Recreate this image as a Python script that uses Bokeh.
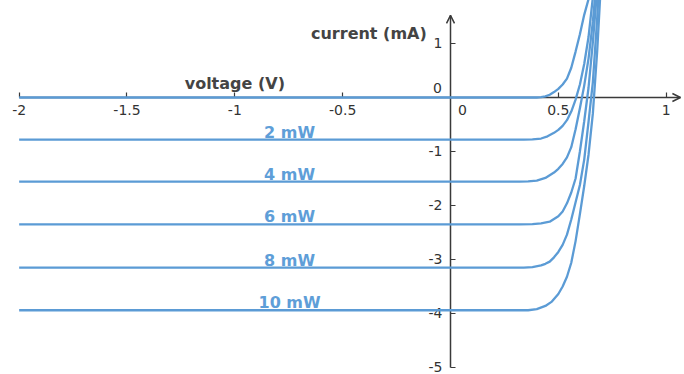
from bokeh.plotting import figure
from bokeh.models import Range1d, Arrow, OpenHead, FixedTicker, CustomJSTickFormatter
from bokeh.core.properties import value
from bokeh.embed import file_html
from bokeh.resources import INLINE

# ---- data ----
x_ticks = [-2, -1.5, -1, -0.5, 0, 0.5, 1]
y_ticks = [-5, -4, -3, -2, -1, 0, 1]
x_title = "voltage (V)"
y_title = "current (mA)"

power_labels = ["2 mW", "4 mW", "6 mW", "8 mW", "10 mW"]
dark_levels = [-0.78, -1.56, -2.35, -3.15, -3.94]   # flat reverse current of each curve

v_0mW = [-2.0, 0.40, 0.42, 0.44, 0.46, 0.48, 0.50, 0.52, 0.54, 0.56, 0.58, 0.60, 0.62, 0.64, 0.66]
i_0mW = [0.0, 0.0, 0.005, 0.02, 0.05, 0.10, 0.16, 0.24, 0.35, 0.55, 0.85, 1.17, 1.53, 1.82, 2.3]

v_2mW = [-2.0, 0.34, 0.38, 0.42, 0.45, 0.48, 0.50, 0.52, 0.54, 0.56, 0.58, 0.60, 0.62, 0.64, 0.66, 0.68]
i_2mW = [-0.78, -0.78, -0.775, -0.76, -0.72, -0.655, -0.60, -0.525, -0.42, -0.26, -0.04, 0.24, 0.62, 1.12, 1.85, 2.6]

v_4mW = [-2.0, 0.32, 0.36, 0.40, 0.44, 0.48, 0.50, 0.52, 0.54, 0.56, 0.58, 0.60, 0.62, 0.64, 0.66, 0.68]
i_4mW = [-1.56, -1.56, -1.555, -1.54, -1.49, -1.39, -1.32, -1.23, -1.11, -0.92, -0.59, -0.20, 0.22, 0.72, 1.40, 2.3]

v_6mW = [-2.0, 0.32, 0.38, 0.42, 0.46, 0.50, 0.52, 0.54, 0.56, 0.58, 0.60, 0.62, 0.64, 0.66, 0.68, 0.70]
i_6mW = [-2.35, -2.35, -2.345, -2.33, -2.30, -2.20, -2.11, -1.96, -1.76, -1.50, -1.00, -0.44, 0.18, 1.02, 2.0, 3.0]

v_8mW = [-2.0, 0.34, 0.38, 0.42, 0.44, 0.46, 0.48, 0.50, 0.52, 0.54, 0.56, 0.58, 0.60, 0.62, 0.64, 0.66, 0.68, 0.70]
i_8mW = [-3.15, -3.15, -3.14, -3.11, -3.08, -3.04, -2.96, -2.86, -2.73, -2.54, -2.26, -1.94, -1.62, -1.15, -0.45, 0.28, 1.45, 2.9]

v_10mW = [-2.0, 0.36, 0.40, 0.44, 0.47, 0.50, 0.52, 0.54, 0.56, 0.58, 0.60, 0.62, 0.64, 0.66, 0.68, 0.70, 0.72]
i_10mW = [-3.94, -3.94, -3.92, -3.86, -3.78, -3.64, -3.50, -3.32, -3.06, -2.66, -2.16, -1.64, -1.06, -0.30, 0.85, 2.3, 3.8]

# ---- styling ----
LINE = "#5b9bd5"
TEXT_BLUE = "#5e9ed8"
AXIS = "#3a3a3a"
FONT = "DejaVu Sans"

p = figure(width=684, height=374,
           x_range=Range1d(-2.0865, 1.085), y_range=Range1d(-5.13, 1.796),
           output_backend="svg", toolbar_location=None, min_border=0)
p.outline_line_color = None
p.grid.visible = False
p.background_fill_color = "white"
p.border_fill_color = "white"

fmt = CustomJSTickFormatter(code="return String(tick);")

xa = p.xaxis[0]
xa.fixed_location = 0
xa.ticker = FixedTicker(ticks=[t for t in x_ticks if t != 0])
xa.formatter = fmt
xa.bounds = (-2, 1.066)
ya = p.yaxis[0]
ya.fixed_location = 0
ya.ticker = FixedTicker(ticks=[t for t in y_ticks if t != 0])
ya.formatter = fmt
ya.bounds = (-5, 1.52)

for ax in (xa, ya):
    ax.axis_line_color = AXIS
    ax.axis_line_width = 1.5
    ax.major_tick_line_color = AXIS
    ax.major_tick_line_width = 1.2
    ax.major_tick_in = 5
    ax.major_tick_out = 0
    ax.minor_tick_line_color = None
    ax.major_label_text_font = FONT
    ax.major_label_text_font_size = "14px"
    ax.major_label_text_color = "#333333"
xa.major_label_standoff = 8
ya.major_label_standoff = 8

# arrow heads on the axes
p.add_layout(Arrow(end=OpenHead(size=8, line_color=AXIS, line_width=1.5),
                   x_start=0.95, y_start=0, x_end=1.066, y_end=0, line_alpha=0))
p.add_layout(Arrow(end=OpenHead(size=8, line_color=AXIS, line_width=1.5),
                   x_start=0, y_start=1.3, x_end=0, y_end=1.52, line_alpha=0))

# the "0" tick labels placed beside the crossing
p.text(x=[0], y=[0], text=[str(x_ticks[4])], x_offset=12, y_offset=13,
       text_align="center", text_baseline="middle", text_font=value(FONT),
       text_font_size="14px", text_color="#333333")
p.text(x=[0], y=[0], text=[str(y_ticks[5])], x_offset=-13, y_offset=-9,
       text_align="center", text_baseline="middle", text_font=value(FONT),
       text_font_size="14px", text_color="#333333")

# curves
for vv, ii in [(v_0mW, i_0mW), (v_2mW, i_2mW), (v_4mW, i_4mW),
               (v_6mW, i_6mW), (v_8mW, i_8mW), (v_10mW, i_10mW)]:
    p.line(vv, ii, line_color=LINE, line_width=2.3, level="overlay")

# power labels above each flat line
label_x = -0.746
p.text(x=[label_x] * len(power_labels), y=dark_levels, y_offset=2, text=power_labels,
       text_align="center", text_baseline="bottom", text_font=value(FONT),
       text_font_style="bold", text_font_size="16px", text_color=TEXT_BLUE)

# axis titles
p.text(x=[-1.0], y=[0.0], y_offset=-4, text=[x_title], text_align="center", text_baseline="bottom",
       text_font=value(FONT), text_font_style="bold", text_font_size="16px", text_color="#444444")
p.text(x=[-0.11], y=[1.0], text=[y_title], text_align="right", text_baseline="bottom",
       text_font=value(FONT), text_font_style="bold", text_font_size="16px", text_color="#444444")

open("out.html", "w").write(file_html(p, INLINE))
